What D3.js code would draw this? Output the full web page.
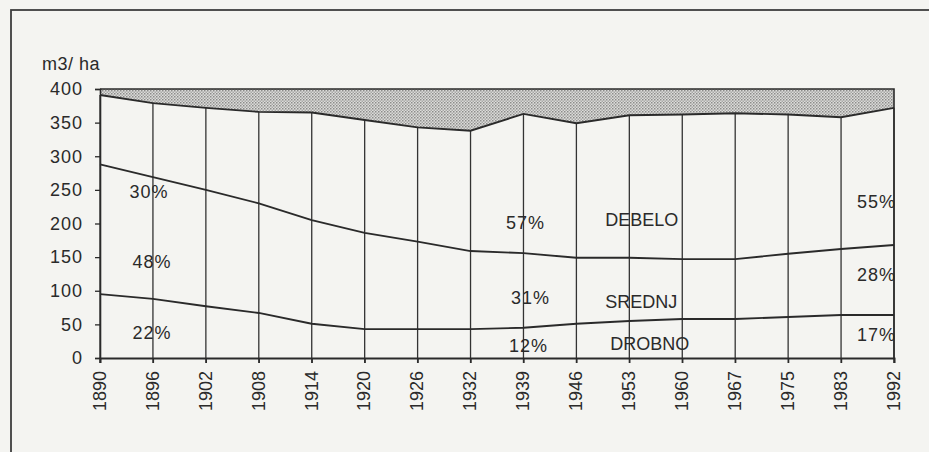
<!DOCTYPE html>
<html>
<head>
<meta charset="utf-8">
<script src="https://cdn.jsdelivr.net/npm/d3@7"></script>
<style>
  body { margin: 0; background: #f4f4f1; }
  svg { display: block; }
  text { font-family: Arial, "Liberation Sans", sans-serif; fill: #2a2a2a; }
</style>
</head>
<body>
<script>
// Data (m3/ha by diameter class)
const years = ["1890", "1896", "1902", "1908", "1914", "1920", "1926", "1932",
               "1939", "1946", "1953", "1960", "1967", "1975", "1983", "1992"];
const drobno = [95, 88, 77, 67, 51, 43, 43, 43, 45, 51, 55, 58, 58, 61, 64, 64];
const srednj = [193, 181, 173, 163, 154, 143, 130, 116, 111, 98, 94, 89, 89, 94, 98, 104];
const debelo = [103, 110, 122, 136, 160, 168, 170, 179, 207, 200, 212, 215, 217, 207, 196, 204];
const yTicks = [0, 50, 100, 150, 200, 250, 300, 350, 400];
const yMax = 400;

// labels: text, year, value, anchor, nudge
const labels = [
  ["30%", "1896", 247, "middle", -4],
  ["48%", "1896", 143, "middle", -1],
  ["22%", "1896", 37, "middle", -1],
  ["57%", "1939", 201, "middle", 2],
  ["31%", "1939", 89, "middle", 7],
  ["12%", "1939", 19, "middle", 5],
  ["DEBELO", "1953", 205, "start", -24],
  ["SREDNJ", "1953", 83, "start", -24],
  ["DROBNO", "1953", 22, "start", -19],
  ["55%", "1992", 232, "end", 2],
  ["28%", "1992", 124, "end", 2],
  ["17%", "1992", 34, "end", 2]
];

const width = 929, height = 452;
const svg = d3.select("body").append("svg")
  .attr("width", width)
  .attr("height", height);

// dotted fill for the gap above the total
const defs = svg.append("defs");
const pat = defs.append("pattern")
  .attr("id", "dots")
  .attr("width", 3).attr("height", 3)
  .attr("patternUnits", "userSpaceOnUse");
pat.append("rect").attr("width", 3).attr("height", 3).attr("fill", "#dcdcda");
pat.append("rect").attr("x", 0).attr("y", 0).attr("width", 1.5).attr("height", 1.5).attr("fill", "#8c8c8a");
pat.append("rect").attr("x", 1.5).attr("y", 1.5).attr("width", 1.5).attr("height", 1.5).attr("fill", "#a8a8a6");

// outer frame (runs off the picture on right and bottom)
svg.append("rect")
  .attr("x", 11).attr("y", 10)
  .attr("width", 940).attr("height", 460)
  .attr("fill", "none")
  .attr("stroke", "#3e3e3e")
  .attr("stroke-width", 1.8);

const x = d3.scalePoint().domain(years).range([100, 894]).padding(0);
const y = d3.scaleLinear().domain([0, yMax]).range([358, 89]);

const rows = years.map((yr, i) => ({ year: yr, drobno: drobno[i], srednj: srednj[i], debelo: debelo[i] }));
const stack = d3.stack().keys(["drobno", "srednj", "debelo"]);
const layers = stack(rows);
const totalLayer = layers[2];

const g = svg.append("g");

// dotted area between total and 400
g.append("path")
  .datum(totalLayer)
  .attr("fill", "url(#dots)")
  .attr("d", d3.area()
    .x((d, i) => x(years[i]))
    .y0(y(yMax))
    .y1(d => y(d[1])));

// drop lines at each year, from 0 up to the total
g.selectAll(".drop")
  .data(totalLayer)
  .enter()
  .append("line")
  .attr("class", "drop")
  .attr("x1", (d, i) => x(years[i]))
  .attr("x2", (d, i) => x(years[i]))
  .attr("y1", y(0) + 5)
  .attr("y2", d => y(d[1]))
  .attr("stroke", "#333")
  .attr("stroke-width", 1.3);

// boundary lines of the stacked layers
const line = d3.line()
  .x((d, i) => x(years[i]))
  .y(d => y(d[1]));
g.selectAll(".layer")
  .data(layers)
  .enter()
  .append("path")
  .attr("class", "layer")
  .attr("fill", "none")
  .attr("stroke", "#2a2a2a")
  .attr("stroke-width", 1.9)
  .attr("d", d => line(d));

// plot border top and right
g.append("path")
  .attr("d", `M${x(years[0])},${y(yMax)}H${x(years[years.length - 1])}V${y(0)}`)
  .attr("fill", "none")
  .attr("stroke", "#2a2a2a")
  .attr("stroke-width", 1.6);

// y axis
const yAxis = g.append("g")
  .attr("transform", `translate(${x(years[0])},0)`)
  .call(d3.axisLeft(y).tickValues(yTicks).tickSize(5).tickPadding(12));
yAxis.select(".domain").attr("stroke", "#2a2a2a").attr("stroke-width", 1.6);
yAxis.selectAll(".tick line").attr("stroke", "#2a2a2a").attr("stroke-width", 1.3);
yAxis.selectAll(".tick text")
  .style("font-size", "18px")
  .attr("fill", "#2a2a2a")
  .style("letter-spacing", "1px");

// x axis
const xAxis = g.append("g")
  .attr("transform", `translate(0,${y(0)})`)
  .call(d3.axisBottom(x).tickSize(5).tickPadding(8));
xAxis.select(".domain").attr("stroke", "#2a2a2a").attr("stroke-width", 1.9);
xAxis.selectAll(".tick line").attr("stroke", "#2a2a2a").attr("stroke-width", 1.3);
xAxis.selectAll(".tick text")
  .style("font-size", "18px")
  .attr("fill", "#2a2a2a")
  .attr("text-anchor", "end")
  .attr("transform", "rotate(-90)")
  .attr("x", -13)
  .attr("y", -1)
  .attr("dy", "0.35em");

// unit label
svg.append("text")
  .attr("x", 42)
  .attr("y", 70)
  .style("font-size", "18px")
  .style("letter-spacing", "0.5px")
  .text("m3/ ha");

// in-chart labels
g.selectAll(".lab")
  .data(labels)
  .enter()
  .append("text")
  .attr("class", "lab")
  .attr("x", d => x(d[1]) + d[4])
  .attr("y", d => y(d[2]))
  .attr("dy", "0.35em")
  .attr("text-anchor", d => d[3])
  .style("font-size", "18px")
  .style("letter-spacing", d => d[0].endsWith("%") ? "1px" : "0px")
  .text(d => d[0]);
</script>
</body>
</html>
